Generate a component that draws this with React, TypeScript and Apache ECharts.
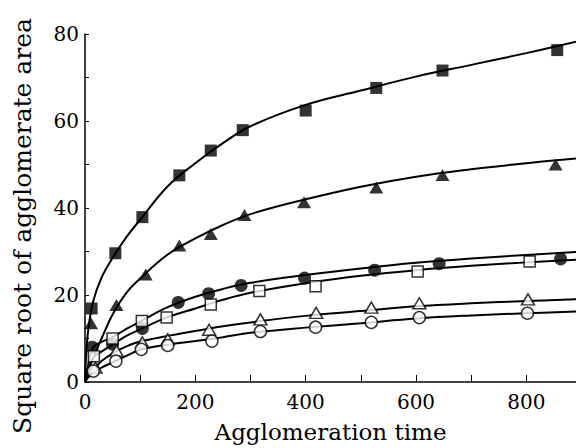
import React, { useEffect, useRef } from "react";
import * as echarts from "echarts";

// Shared sample times along the fitted curves
const curveT = [0, 5, 15, 30, 50, 75, 100, 150, 200, 250, 300, 400, 500, 600, 700, 800, 890];

// Fitted curves
const curveFilledSquare = [0, 11, 18.6, 24, 28.5, 33.3, 37.3, 45, 50.3, 54.9, 58.8, 63.7, 67.0, 70.2, 72.9, 75.6, 78.2];
const curveFilledTriangle = [0, 2.2, 5.5, 10, 15.5, 20.5, 23.8, 29.3, 33.0, 36.1, 38.6, 42, 44.9, 47.2, 48.9, 50.3, 51.4];
const curveFilledCircle = [0, 3.5, 8, 9.2, 10.3, 12.2, 13.9, 17.2, 19.6, 21.4, 22.8, 24.6, 26.1, 27.4, 28.4, 29.2, 29.9];
const curveOpenSquare = [0, 2.5, 5.6, 7, 8.6, 10.6, 12.1, 14.9, 16.9, 18.9, 20.5, 22.7, 24.4, 25.7, 26.7, 27.5, 28.1];
const curveOpenTriangle = [0, 1.2, 2.7, 4.8, 6.6, 8.2, 9.3, 10.6, 11.7, 12.8, 13.7, 15.2, 16.3, 17.4, 18.1, 18.6, 19.0];
const curveOpenCircle = [0, 0.9, 2.1, 3.3, 4.5, 6.0, 7.4, 8.6, 9.4, 10.3, 11.3, 12.5, 13.5, 14.6, 15.3, 15.8, 16.2];

// Measured points
const filledSquareT = [12, 55, 104, 171, 228, 286, 400, 528, 648, 856];
const filledSquareY = [16.9, 29.6, 37.9, 47.5, 53.2, 57.9, 62.4, 67.6, 71.6, 76.3];
const filledTriangleT = [11, 57, 110, 171, 228, 289, 397, 528, 648, 853];
const filledTriangleY = [13.5, 17.7, 24.7, 31.4, 34, 38.4, 41.3, 44.7, 47.6, 50];
const filledCircleT = [13, 50, 104, 169, 224, 283, 398, 525, 642, 862];
const filledCircleY = [8, 8.7, 12.3, 18.3, 20.3, 22.2, 23.9, 25.7, 27.2, 28.3];
const openSquareT = [16, 50, 103, 148, 228, 316, 418, 603, 806];
const openSquareY = [5.9, 10, 14, 14.8, 17.8, 20.9, 22, 25.4, 27.7];
const openTriangleT = [19, 57, 104, 150, 225, 318, 419, 519, 606, 803];
const openTriangleY = [3.3, 7.2, 9.1, 9.8, 12, 14.4, 15.9, 17.1, 18.1, 19];
const openCircleT = [15, 56, 102, 150, 230, 318, 418, 519, 606, 802];
const openCircleY = [2.5, 4.8, 7.5, 8.4, 9.4, 11.6, 12.6, 13.7, 14.8, 15.8];

const xTitle = "Agglomeration time";
const yTitle = "Square root of agglomerate area";

const FONT = "'DejaVu Serif', 'Liberation Serif', serif";

const zip = (a: number[], b: number[]) => a.map((v, i) => [v, b[i]]);

function curve(name: string, ys: number[]) {
  return {
    name,
    type: "line",
    data: zip(curveT, ys),
    smooth: 0.4,
    showSymbol: false,
    symbol: "none",
    lineStyle: { color: "#000", width: 2 },
    z: 2,
    silent: true,
  };
}

function marks(name: string, t: number[], y: number[], symbol: string, size: number | number[], filled: boolean) {
  return {
    name,
    type: "scatter",
    data: zip(t, y),
    symbol,
    symbolSize: size,
    itemStyle: filled
      ? { color: "#000", borderColor: "#000", borderWidth: 0 }
      : { color: "#fff", borderColor: "#000", borderWidth: 1.5 },
    z: 5,
  };
}

export default function App() {
  const ref = useRef<HTMLDivElement>(null);
  useEffect(() => {
    const chart = echarts.init(ref.current!, null, { renderer: "svg" });
    chart.setOption({
      animation: false,
      backgroundColor: "#fff",
      grid: { left: 85, right: 0, top: 34, bottom: 64, containLabel: false },
      xAxis: {
        type: "value",
        min: 0,
        max: 890,
        interval: 100,
        name: xTitle,
        nameLocation: "middle",
        nameGap: 38,
        nameTextStyle: { color: "#000", fontFamily: FONT, fontSize: 23 },
        axisLine: { show: true, lineStyle: { color: "#000", width: 1.5 } },
        axisTick: { show: true, inside: true, length: 7, lineStyle: { color: "#000", width: 1 } },
        axisLabel: {
          color: "#000",
          fontFamily: FONT,
          fontSize: 20,
          margin: 10,
          showMaxLabel: false,
          formatter: (v: number) => (v % 200 === 0 ? String(v) : ""),
        },
        splitLine: { show: false },
      },
      yAxis: {
        type: "value",
        min: 0,
        max: 80,
        interval: 20,
        axisLine: { show: true, lineStyle: { color: "#000", width: 1.5 } },
        axisTick: { show: true, inside: true, length: 4, lineStyle: { color: "#000", width: 1 } },
        minorTick: { show: true, splitNumber: 2, length: 4, lineStyle: { color: "#000", width: 1 } },
        axisLabel: { color: "#000", fontFamily: FONT, fontSize: 20, margin: 6 },
        splitLine: { show: false },
      },
      graphic: [
        {
          type: "text",
          x: 22,
          y: 226,
          rotation: Math.PI / 2,
          style: {
            text: yTitle,
            fill: "#000",
            font: `25px ${FONT}`,
            align: "center",
            verticalAlign: "middle",
          },
        },
      ],
      series: [
        curve("fit ■", curveFilledSquare),
        curve("fit ▲", curveFilledTriangle),
        curve("fit ●", curveFilledCircle),
        curve("fit □", curveOpenSquare),
        curve("fit △", curveOpenTriangle),
        curve("fit ○", curveOpenCircle),
        marks("■", filledSquareT, filledSquareY, "rect", 12, true),
        marks("▲", filledTriangleT, filledTriangleY, "triangle", [14, 12], true),
        marks("●", filledCircleT, filledCircleY, "circle", 13, true),
        marks("□", openSquareT, openSquareY, "rect", 11, false),
        marks("△", openTriangleT, openTriangleY, "triangle", [13, 11], false),
        marks("○", openCircleT, openCircleY, "circle", 12, false),
      ],
    });
    return () => chart.dispose();
  }, []);
  return (
    <div
      ref={ref}
      style={{ position: "fixed", left: 0, top: 0, width: 576, height: 448, background: "#fff" }}
    />
  );
}
